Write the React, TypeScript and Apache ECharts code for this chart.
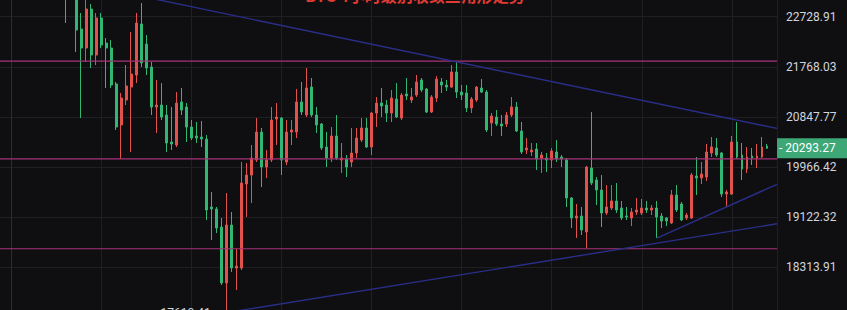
import React, { useEffect, useRef } from "react";
import * as echarts from "echarts";

// 4H candles; slot index of the first visible candle on the time axis
const firstSlot = 11;
const lastSlot = 153;
const firstAxisSlot = -18;

const opens = [
  23359, 23218, 23158, 22489, 22124, 22880, 21991, 22704, 22219, 22124,
  21448, 20703, 21154, 21392, 21615, 22586, 22200, 21765, 21027, 21063,
  20882, 20402, 20349, 21118, 21027, 20667, 20508, 20490, 20455, 19290,
  19257, 18960, 18067, 18993, 18302, 18302, 19676, 19829, 20088, 20578,
  19967, 20088, 20810, 20828, 20053, 20578, 20578, 21118, 20882, 21392,
  20882, 20721, 20314, 20122, 20508, 20088, 20105, 20053, 20209, 20437,
  20650, 20314, 20918, 21099, 21063, 20918, 21172, 20828, 21264, 21154,
  21245, 21522, 21356, 20936, 21190, 21485, 21429, 21392, 21671, 21300,
  21282, 21009, 21154, 21374, 21300, 20739, 20846, 20721, 20721, 20882,
  21027, 20596, 20261, 20227, 20279, 20122, 20122, 20088, 20227, 20140,
  20088, 19440, 19108, 19141, 18879, 19950, 19744, 19575, 19190, 19273,
  19390, 19273, 19141, 19108, 19207, 19190, 19273, 19240, 19273, 19141,
  19108, 19026, 19491, 19340, 19108, 19108, 19812, 19778, 19795, 20209,
  20297, 20209, 19507, 19507, 20402, 20174, 19932, 20157, 20122, 20140,
  20331,
];
const closes = [
  23158, 23500, 22470, 22124, 22880, 21991, 22704, 22181, 22124, 21429,
  20667, 21190, 21411, 21633, 22606, 21840, 21746, 21027, 21063, 20846,
  20384, 20367, 21099, 20972, 20667, 20472, 20472, 20455, 19240, 19257,
  18944, 18067, 18993, 18302, 18333, 19693, 19829, 20122, 20578, 19967,
  20088, 20792, 20846, 20088, 20578, 20614, 21118, 20936, 21374, 20882,
  20703, 20297, 20122, 20508, 20122, 20122, 19967, 20209, 20472, 20650,
  20314, 20918, 21099, 21045, 20918, 21190, 20846, 21245, 21227, 21209,
  21485, 21337, 20936, 21209, 21540, 21429, 21392, 21671, 21300, 21245,
  21009, 21172, 21392, 21300, 20614, 20864, 20721, 20685, 20882, 21027,
  20596, 20227, 20296, 20261, 20105, 20174, 20088, 20244, 20105, 20105,
  19440, 19108, 19141, 18911, 19967, 19693, 19575, 19190, 19290, 19390,
  19240, 19108, 19124, 19207, 19240, 19273, 19240, 19273, 19124, 19059,
  19059, 19491, 19240, 19075, 19157, 19829, 19778, 19847, 20227, 20314,
  20174, 19507, 19541, 20402, 20140, 19932, 20140, 20122, 20157, 20314,
  20293.27,
];
const highs = [
  23459, 23622, 23258, 22802, 23058, 22979, 22802, 22802, 22315, 22277,
  21485, 21282, 21802, 22431, 22802, 22999, 22373, 21859, 21522, 21466,
  21063, 21027, 21300, 21374, 21099, 20792, 20757, 20774, 20525, 19541,
  19290, 19108, 19524, 19207, 18604, 20053, 20036, 20349, 20828, 20650,
  20261, 21027, 21099, 20846, 20792, 20792, 21356, 21485, 21746, 21559,
  21027, 20739, 20578, 20667, 20882, 20384, 20174, 20650, 20650, 20828,
  20828, 20936, 21209, 21374, 21154, 21337, 21466, 21282, 21559, 21374,
  21615, 21559, 21374, 21245, 21596, 21559, 21522, 21802, 21877, 21429,
  21429, 21209, 21411, 21540, 21337, 20918, 20972, 20882, 20936, 21209,
  21118, 20757, 20472, 20384, 20384, 20227, 20209, 20296, 20437, 20174,
  20122, 19457, 19340, 19290, 19984, 20936, 19795, 19829, 19659, 19659,
  19693, 19390, 19290, 19273, 19440, 19423, 19390, 19323, 19390, 19190,
  19124, 19575, 19659, 19373, 19190, 19864, 20140, 20053, 20367, 20490,
  20472, 20227, 19575, 20508, 20757, 20384, 20314, 20297, 20367, 20490,
  20367,
];
const lows = [
  22606, 23138, 22048, 20828, 21859, 21746, 21802, 22124, 21374, 21374,
  20614, 20105, 21063, 20227, 21466, 21765, 21615, 20882, 20561, 20792,
  20227, 20261, 20314, 20882, 20402, 20437, 20384, 20314, 19075, 18749,
  18862, 18035, 17610.41, 18239, 17958, 18270, 19124, 19357, 20053, 19625,
  19778, 20053, 20349, 19829, 20001, 20349, 20472, 20882, 20846, 20846,
  20561, 20261, 19967, 20053, 20088, 19864, 19795, 19967, 20122, 20402,
  20296, 20174, 20667, 20846, 20757, 20757, 20828, 20792, 21154, 21099,
  21209, 21300, 20918, 20918, 21118, 21282, 21319, 21374, 21190, 21154,
  20936, 20918, 21118, 21282, 20578, 20508, 20685, 20508, 20667, 20846,
  20578, 20192, 20192, 20157, 19915, 19864, 19881, 19950, 20053, 19967,
  19290, 18944, 18781, 18830, 18620, 19659, 19323, 18960, 19157, 19240,
  19190, 19075, 19075, 18977, 19157, 19157, 19190, 19157, 18781, 18944,
  18977, 19009, 19207, 19059, 19075, 19091, 19491, 19676, 19727, 20140,
  20140, 19457, 19290, 19491, 20105, 19744, 19864, 20001, 19950, 20122,
  20279,
];

const yTicks = [22728.91, 21768.03, 20847.77, 19966.42, 19122.32, 18313.91];
const levels = [21875, 20106, 18608];
const lastPrice = 20293.27;
const trendLines: [number, number][][] = [
  [[24, 23175], [153, 20642]],
  [[43, 17610.41], [153, 19013]],
  [[129, 18781], [153, 19671]],
];
const titleText = "BTC 4小时级别收敛三角形走势";

const UP = "#e2514c";
const DOWN = "#32b673";
const LEVEL = "#a8327a";
const TREND = "#2a2e86";
const PRICE_BG = "#3da876";

export default function App() {
  const ref = useRef<HTMLDivElement>(null);
  useEffect(() => {
    if (!ref.current) return;
    const chart = echarts.init(ref.current, undefined, { renderer: "svg" });
    const candleData = opens.map((o, i) => [firstSlot + i, o, closes[i], lows[i], highs[i]]);
    const trendData = trendLines.map((ln) => [{ coord: ln[0] }, { coord: ln[1] }]);

    const levelSeries = levels.map((v) => ({
      type: "line",
      silent: true,
      symbol: "none",
      z: 3,
      data: [
        [firstAxisSlot, v],
        [lastSlot, v],
      ],
      lineStyle: { color: LEVEL, width: 1.2, type: "solid" },
    }));

    chart.setOption({
      animation: false,
      backgroundColor: "#0f0f12",
      grid: {
        left: -79,
        right: 70,
        top: -46.4,
        bottom: -43.6,
        containLabel: false,
        outerBoundsMode: "none",
      },
      xAxis: {
        type: "value",
        min: firstAxisSlot,
        max: lastSlot,
        interval: 18,
        axisLine: { show: false },
        axisTick: { show: false },
        axisLabel: { show: false },
        splitLine: { show: true, lineStyle: { color: "#1f1f24", width: 1 } },
      },
      yAxis: {
        type: "log",
        logBase: 10,
        position: "right",
        min: 17000,
        max: 24000,
        axisLine: { show: true, lineStyle: { color: "#2c2c31" } },
        axisTick: { show: false, customValues: yTicks },
        axisLabel: {
          customValues: yTicks,
          color: "#d1d4dc",
          fontFamily: "Roboto",
          fontSize: 12,
          margin: 9,
          formatter: (v: number) => Number(v).toFixed(2),
        },
        splitLine: { show: true, lineStyle: { color: "#1f1f24", width: 1 } },
      },
      graphic: [
        {
          type: "text",
          x: 415,
          y: 3,
          silent: true,
          style: {
            text: titleText,
            fill: "#e23b33",
            font: 'bold 16px "Noto Sans CJK SC"',
            textAlign: "center",
            textVerticalAlign: "bottom",
          },
        },
      ],
      series: [
        {
          type: "candlestick",
          data: candleData,
          barWidth: 2.4,
          z: 2,
          itemStyle: {
            color: UP,
            color0: DOWN,
            borderColor: UP,
            borderColor0: DOWN,
            borderWidth: 1,
          },
          markLine: {
            silent: true,
            symbol: ["none", "none"],
            label: { show: false },
            lineStyle: { color: TREND, width: 1.4, type: "solid" },
            data: trendData,
          },
          markPoint: {
            silent: true,
            symbol: "circle",
            symbolSize: 1,
            itemStyle: { color: "rgba(0,0,0,0)" },
            label: {
              show: true,
              position: "left",
              distance: 15,
              color: "#d1d4dc",
              fontFamily: "Roboto",
              fontSize: 12,
              formatter: (p: any) => Number(p.value).toFixed(2),
            },
            data: [{ type: "min", valueDim: "lowest" }],
          },
        },
        ...levelSeries,
        // last-price tag on the price scale
        {
          type: "custom",
          silent: true,
          clip: false,
          z: 30,
          data: [[lastSlot, lastPrice]],
          renderItem: (params: any, api: any) => {
            const p = api.coord([api.value(0), api.value(1)]);
            const x0 = p[0];
            const y0 = p[1];
            return {
              type: "group",
              children: [
                {
                  type: "polygon",
                  shape: {
                    points: [
                      [x0, y0 - 10],
                      [x0 + 80, y0 - 10],
                      [x0 + 80, y0 + 10],
                      [x0, y0 + 10],
                    ],
                  },
                  style: { fill: PRICE_BG },
                },
                {
                  type: "text",
                  x: x0 + 2,
                  y: y0,
                  style: {
                    text: "- " + Number(api.value(1)).toFixed(2),
                    fill: "#ffffff",
                    font: '12px "Roboto"',
                    textAlign: "left",
                    textVerticalAlign: "middle",
                    align: "left",
                    verticalAlign: "middle",
                  },
                },
              ],
            };
          },
        },
      ],
    });
    return () => chart.dispose();
  }, []);
  return (
    <div
      ref={ref}
      style={{ position: "fixed", left: 0, top: 0, width: 847, height: 310 }}
    />
  );
}
